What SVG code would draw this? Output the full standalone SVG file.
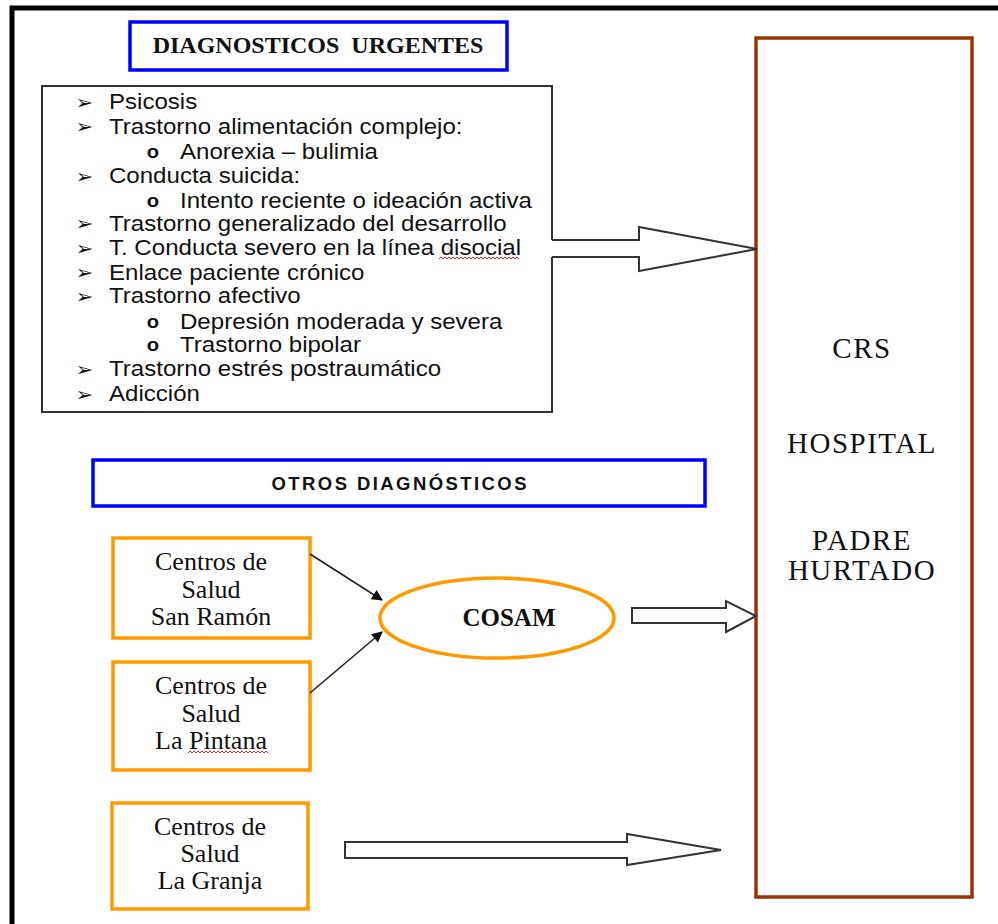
<svg xmlns="http://www.w3.org/2000/svg" width="998" height="924" viewBox="0 0 998 924">
<style>
.frame{fill:none;stroke:#000;stroke-width:5}
.blue{fill:#fff;stroke:#0000ff;stroke-width:3.5}
.orange{fill:#fff;stroke:#ff9900;stroke-width:3.5}
.brown{fill:#fff;stroke:#993300;stroke-width:3.5}
.listbox{fill:none;stroke:#333;stroke-width:2}
.block{fill:#fff;stroke:#333;stroke-width:2;stroke-linejoin:miter}
.thin{stroke:#222;stroke-width:1.6;fill:none}
.times{font-family:"Liberation Serif","Times New Roman",serif;fill:#111;text-anchor:middle}
.li{font-family:"Liberation Sans",Arial,sans-serif;font-size:21.5px;fill:#111}
.sub{font-family:"Liberation Sans",Arial,sans-serif;font-size:18px;font-weight:bold;fill:#111}
.bul{font-family:"DejaVu Sans",sans-serif;font-size:19px;fill:#111}
.sq{fill:none;stroke:#e02020;stroke-width:1}
</style>
<defs>
<marker id="ah" viewBox="0 0 10 10" refX="9" refY="5" markerWidth="13" markerHeight="11" markerUnits="userSpaceOnUse" orient="auto">
<path d="M0,0 L10,5 L0,10 z" fill="#111"/>
</marker>
</defs>
<rect width="998" height="924" fill="#fff"/>
<path class="frame" d="M12,924 V8 H998"/>

<g id="diag-urgentes">
<rect class="blue" x="130" y="22" width="377" height="48"/>
<text class="times" x="318" y="53" font-size="24" font-weight="bold">DIAGNOSTICOS&#160; URGENTES</text>
</g>

<g id="lista-urgentes">
<path class="listbox" d="M552,240 V86 H42 V412 H552 V257"/>
<g transform="scale(1.12,1)">
<g class="bul">
<text x="67.5" y="109">➢</text>
<text x="67.5" y="133.5">➢</text>
<text x="67.5" y="183">➢</text>
<text x="67.5" y="230.5">➢</text>
<text x="67.5" y="255">➢</text>
<text x="67.5" y="279.5">➢</text>
<text x="67.5" y="303">➢</text>
<text x="67.5" y="376">➢</text>
<text x="67.5" y="401">➢</text>
</g>
<g class="sub">
<text x="131" y="158">o</text>
<text x="131" y="207.5">o</text>
<text x="131" y="328">o</text>
<text x="131" y="351.5">o</text>
</g>
<g class="li">
<text x="97.3" y="109.5">Psicosis</text>
<text x="97.3" y="134">Trastorno alimentación complejo:</text>
<text x="160.7" y="159">Anorexia – bulimia</text>
<text x="97.3" y="183.5">Conducta suicida:</text>
<text x="160.7" y="208.5">Intento reciente o ideación activa</text>
<text x="97.3" y="231">Trastorno generalizado del desarrollo</text>
<text x="97.3" y="255.5">T. Conducta severo en la línea disocial</text>
<text x="97.3" y="280">Enlace paciente crónico</text>
<text x="97.3" y="303.5">Trastorno afectivo</text>
<text x="160.7" y="329">Depresión moderada y severa</text>
<text x="160.7" y="352.5">Trastorno bipolar</text>
<text x="97.3" y="376.5">Trastorno estrés postraumático</text>
<text x="97.3" y="401.5">Adicción</text>
</g>
</g>
<path class="sq" d="M439,259 l2,-2 l2,2 l2,-2 l2,2 l2,-2 l2,2 l2,-2 l2,2 l2,-2 l2,2 l2,-2 l2,2 l2,-2 l2,2 l2,-2 l2,2 l2,-2 l2,2 l2,-2 l2,2 l2,-2 l2,2 l2,-2 l2,2 l2,-2 l2,2 l2,-2 l2,2 l2,-2 l2,2 l2,-2 l2,2 l2,-2 l2,2 l2,-2 l2,2 l2,-2 l2,2 l2,-2 l2,2"/>
</g>

<g id="otros-diag">
<rect class="blue" x="93" y="460" width="612" height="46"/>
<text x="399" y="490" font-family="'Liberation Sans',Arial,sans-serif" font-size="18.5" font-weight="bold" fill="#111" text-anchor="middle" textLength="255" lengthAdjust="spacing">OTROS DIAGNÓSTICOS</text>
</g>

<g id="cs-san-ramon">
<rect class="orange" x="113" y="538" width="197" height="100"/>
<g class="times" font-size="26">
<text x="211" y="570">Centros de</text>
<text x="211" y="597.5">Salud</text>
<text x="211" y="625">San Ramón</text>
</g>
</g>

<g id="cs-la-pintana">
<rect class="orange" x="113" y="662" width="197" height="108"/>
<g class="times" font-size="26">
<text x="211" y="694">Centros de</text>
<text x="211" y="721.5">Salud</text>
<text x="211" y="749">La Pintana</text>
</g>
<path class="sq" d="M188,753 l2,-2 l2,2 l2,-2 l2,2 l2,-2 l2,2 l2,-2 l2,2 l2,-2 l2,2 l2,-2 l2,2 l2,-2 l2,2 l2,-2 l2,2 l2,-2 l2,2 l2,-2 l2,2 l2,-2 l2,2 l2,-2 l2,2 l2,-2 l2,2 l2,-2 l2,2 l2,-2 l2,2 l2,-2 l2,2 l2,-2 l2,2 l2,-2 l2,2 l2,-2 l2,2 l2,-2 l2,2"/>
</g>

<g id="cs-la-granja">
<rect class="orange" x="112" y="803" width="196" height="106"/>
<g class="times" font-size="26">
<text x="210" y="835">Centros de</text>
<text x="210" y="862">Salud</text>
<text x="210" y="889">La Granja</text>
</g>
</g>

<g id="cosam">
<ellipse cx="497" cy="618" rx="117" ry="40" fill="#fff" stroke="#ff9900" stroke-width="3.5"/>
<text class="times" x="509" y="626" font-size="25" font-weight="bold">COSAM</text>
</g>

<g id="crs-hospital">
<rect class="brown" x="756" y="38" width="216" height="859"/>
<g class="times" font-size="29" letter-spacing="1.5">
<text x="862" y="358">CRS</text>
<text x="862" y="453">HOSPITAL</text>
<text x="862" y="550">PADRE</text>
<text x="862" y="580">HURTADO</text>
</g>
</g>

<g id="connectors">
<polyline class="block" points="552,240 639,240 639,227 757,249 639,271 639,257 552,257"/>
<polygon class="block" points="632,608 726,608 726,601 756,616 726,632 726,623 632,623"/>
<polygon class="block" points="345,842 627,842 627,834 721,850 627,865 627,858 345,858"/>
<line class="thin" x1="310" y1="554" x2="382" y2="600" marker-end="url(#ah)"/>
<line class="thin" x1="310" y1="693" x2="382" y2="632" marker-end="url(#ah)"/>
</g>
</svg>
